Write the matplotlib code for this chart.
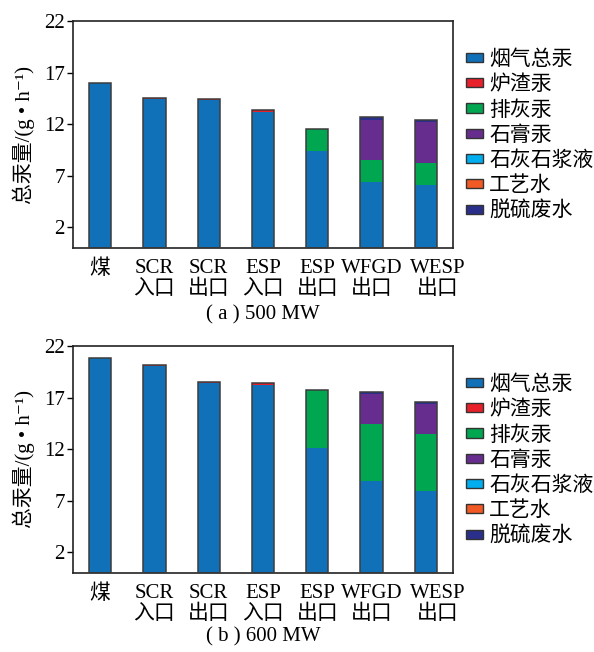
import numpy as np
import matplotlib
matplotlib.use("Agg")
import matplotlib.pyplot as plt
from matplotlib.patches import Patch
from matplotlib.transforms import ScaledTranslation

plt.rcParams['font.family'] = ['Liberation Serif', 'Noto Sans CJK SC', 'DejaVu Serif']

categories = ['煤', 'SCR\n入口', 'SCR\n出口', 'ESP\n入口', 'ESP\n出口', 'WFGD\n出口', 'WESP\n出口']
series_names = ['烟气总汞', '炉渣汞', '排灰汞', '石膏汞', '石灰石浆液', '工艺水', '脱硫废水']
series_colors = ['#1070b8', '#e8202a', '#00a650', '#662d8f', '#00adee', '#f15a24', '#2b2f8c']

# 500 MW unit, g/h
flue_500 = [16.0, 14.4, 14.3, 13.15, 9.4, 6.4, 6.1]
slag_500 = [0.0, 0.1, 0.12, 0.2, 0.0, 0.0, 0.0]
ash_500 = [0.0, 0.0, 0.0, 0.0, 2.1, 2.1, 2.1]
gypsum_500 = [0.0, 0.0, 0.0, 0.0, 0.0, 3.95, 4.0]
limestone_500 = [0.0, 0.0, 0.0, 0.0, 0.0, 0.0, 0.0]
water_500 = [0.0, 0.0, 0.0, 0.0, 0.0, 0.0, 0.0]
wastewater_500 = [0.0, 0.0, 0.0, 0.0, 0.0, 0.2, 0.2]

# 600 MW unit, g/h
flue_600 = [20.8, 20.05, 18.4, 18.25, 12.1, 8.9, 7.95]
slag_600 = [0.0, 0.15, 0.15, 0.15, 0.0, 0.0, 0.0]
ash_600 = [0.0, 0.0, 0.0, 0.0, 5.6, 5.5, 5.5]
gypsum_600 = [0.0, 0.0, 0.0, 0.0, 0.0, 2.95, 2.9]
limestone_600 = [0.0, 0.0, 0.0, 0.0, 0.0, 0.0, 0.0]
water_600 = [0.0, 0.0, 0.0, 0.0, 0.0, 0.0, 0.0]
wastewater_600 = [0.0, 0.0, 0.0, 0.0, 0.0, 0.15, 0.2]

yticks = [2, 7, 12, 17, 22]
captions = ['( a ) 500 MW', '( b ) 600 MW']

FS = 15
W, H = 594, 652
fig = plt.figure(figsize=(W / 100, H / 100), dpi=100)

def px_axes(left, top, right, bottom):
    return fig.add_axes([left / W, 1 - bottom / H, (right - left) / W, (bottom - top) / H])

def draw_panel(ax, layers, caption, caption_y):
    x = np.arange(len(categories))
    width = 0.41
    base = np.zeros(len(categories))
    for vals, col in zip(layers, series_colors):
        v = np.asarray(vals, dtype=float)
        ax.bar(x, v, width, bottom=base, color=col, edgecolor='none', linewidth=0, zorder=2)
        base += v
    ax.bar(x, base, width, fill=False, edgecolor='#3c3c3c', linewidth=1.1, zorder=3)
    ax.set_xlim(-0.5, len(categories) - 0.5)
    ax.set_ylim(0, 22)
    ax.set_yticks(yticks)
    ax.set_xticks(x)
    ax.set_xticklabels(categories, fontsize=FS, linespacing=1.1)
    ax.tick_params(axis='x', length=0, pad=8)
    ax.tick_params(axis='y', direction='out', length=4, width=1, pad=2, labelsize=FS)
    # nudge the last category label right so it clears its neighbour
    last = ax.get_xticklabels()[-1]
    last.set_transform(last.get_transform() + ScaledTranslation(12 / 100, 0, fig.dpi_scale_trans))
    for s in ax.spines.values():
        s.set_linewidth(1.2)
        s.set_color('#222222')
    ax.set_ylabel('总汞量/(g • h⁻¹)', fontsize=FS, labelpad=6)
    handles = [Patch(facecolor=c, edgecolor='#333333', linewidth=1.0) for c in series_colors]
    ax.legend(handles, series_names, loc='upper left', bbox_to_anchor=(1.035, 0.87),
              frameon=False, fontsize=FS, handlelength=0.8, handleheight=0.3,
              handletextpad=0.3, labelspacing=0.27, borderaxespad=0, borderpad=0)
    fig.text(263 / W, 1 - caption_y / H, caption, ha='center', va='center', fontsize=FS)

ax1 = px_axes(73, 21, 453, 248)
draw_panel(ax1, [flue_500, slag_500, ash_500, gypsum_500, limestone_500, water_500, wastewater_500],
           captions[0], 315)

ax2 = px_axes(73, 346, 453, 573)
draw_panel(ax2, [flue_600, slag_600, ash_600, gypsum_600, limestone_600, water_600, wastewater_600],
           captions[1], 637)

fig.savefig('out.png', dpi=100)
